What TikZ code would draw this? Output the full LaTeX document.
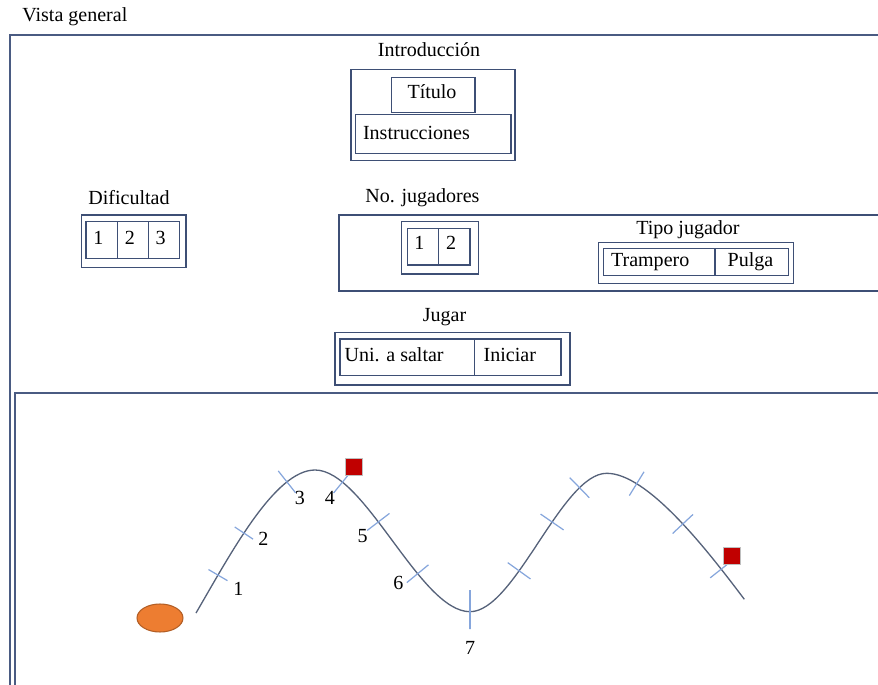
\documentclass[tikz,border=0pt]{standalone}
\usepackage{fontspec}
\setmainfont{Liberation Serif}
\usetikzlibrary{shapes.geometric,fit}
\definecolor{frameBlue}{HTML}{4A5B82}
\definecolor{boxBlue}{HTML}{3E4F75}
\definecolor{curveGray}{HTML}{56627A}
\definecolor{tickBlue}{HTML}{86A6DC}
\definecolor{flagRed}{HTML}{C00000}
\definecolor{fleaOrange}{HTML}{ED7D31}

\tikzset{
  lbl/.style={font=\fontsize{11.4}{13}\selectfont, inner sep=0, text height=.66em, text depth=0pt},
  box/.style={draw=boxBlue, line width=.6pt, inner sep=0},
  frame/.style={draw=frameBlue, line width=1pt},
  curve/.style={draw=curveGray, line width=.75pt},
  notch/.style={draw=tickBlue, line width=.7pt, sloped, minimum width=0pt, minimum height=#1, inner sep=0, outer sep=0},
  notch/.default=.56cm,
  flag/.style={fill=flagRed, draw=black!25, line width=.5pt, minimum size=.34cm, inner sep=0},
  flea/.style={ellipse, fill=fleaOrange, draw=fleaOrange!75!black, line width=.6pt, minimum width=.92cm, minimum height=.56cm}
}

\begin{document}
\begin{tikzpicture}[x=0.02cm, y=-0.02cm]
  \clip (0,0) rectangle (878,685);

  % marcos de la pantalla
  \node[lbl, anchor=west] (vista) at (22,16) {Vista general};
  \draw[frame] (10,35) rectangle (900,700);
  \draw[frame] (15,393) rectangle (900,700);

  % introduccion
  \node[lbl] (introLbl) at (429,51) {Introducción};
  \node[box, fit={(351,69.3) (515,160.7)}] (intro) {};
  \node[box, fit={(391.7,77.3) (475,112.3)}] (titulo) {};
  \node[lbl] (tituloTxt) at (432,93) {Título};
  \node[box, fit={(355.7,114.3) (511,153.3)}] (instr) {};
  \node[lbl, anchor=west] (instrTxt) at (362.7,133.3) {Instrucciones};

  % dificultad
  \node[lbl] (difLbl) at (129,198.3) {Dificultad};
  \node[box, fit={(81.7,215) (186,267.3)}] (dif) {};
  \node[box, fit={(86,221.7) (117.3,258.3)}] (dif1) {};
  \node[box, fit={(117.3,221.7) (148.3,258.3)}] (dif2) {};
  \node[box, fit={(148.3,221.7) (179.3,258.3)}] (dif3) {};
  \node[lbl] (dif1Txt) at (98.3,239) {1};
  \node[lbl] (dif2Txt) at (130,239) {2};
  \node[lbl] (dif3Txt) at (160.7,239) {3};

  % jugadores
  \node[lbl] (jugLbl) at (422.5,197) {No. jugadores};
  \node[box, fit={(339,215) (900,291)}] (jug) {};
  \node[box, fit={(401.7,221.7) (478.3,274)}] (num) {};
  \node[box, fit={(407.3,228.3) (438.7,265)}] (num1) {};
  \node[box, fit={(438.7,228.3) (470,265)}] (num2) {};
  \node[lbl] (num1Txt) at (419.3,243.5) {1};
  \node[lbl] (num2Txt) at (451,243.5) {2};

  \node[lbl] (tipoLbl) at (688,229) {Tipo jugador};
  \node[box, fit={(598.3,242.3) (793.3,283.3)}] (tipo) {};
  \node[box, fit={(603.3,248.3) (715,275.7)}] (tramp) {};
  \node[box, fit={(715,248.3) (788.3,275.7)}] (pulga) {};
  \node[lbl, anchor=west] (trampTxt) at (610.7,261) {Trampero};
  \node[lbl, anchor=west] (pulgaTxt) at (727.3,261) {Pulga};

  % jugar
  \node[lbl] (jugarLbl) at (444.5,315.5) {Jugar};
  \node[box, fit={(335,332.3) (570,385)}] (jugar) {};
  \node[box, fit={(340,339) (474.3,375.7)}] (saltar) {};
  \node[box, fit={(474.3,339) (561,375.7)}] (iniciar) {};
  \node[lbl, anchor=west] (saltarTxt) at (344.3,356) {Uni. a saltar};
  \node[lbl, anchor=west] (iniciarTxt) at (483.3,356) {Iniciar};

  % recorrido de la pulga con sus marcas
  \draw[curve] (196,613)
    .. controls (231,553) and (275,470) .. (315,470)
      node[notch=.44cm, pos=.2] (t1) {} node[notch=.44cm, pos=.42] (t2) {} node[notch, pos=.77] (t3) {}
    .. controls (365,470) and (420,611.7) .. (470,611.7)
      node[notch, pos=.18] (t4) {} node[notch, pos=.41] (t5) {} node[notch, pos=.66] (t6) {}
      node[notch=.78cm, pos=1, yshift=.04cm] (t7) {}
    .. controls (515,611.7) and (561.7,473.3) .. (606.7,473.3)
      node[notch, pos=.36] (t8) {} node[notch, pos=.6] (t9) {} node[notch, pos=.8] (t10) {}
    .. controls (646.7,473.3) and (704.3,546) .. (744.3,599.3)
      node[notch, pos=.23] (t11) {} node[notch, pos=.55] (t12) {} node[notch, pos=.82] (t13) {};

  \node[lbl] (l1) at (238.3,590) {1};
  \node[lbl] (l2) at (263.3,540) {2};
  \node[lbl] (l3) at (300,498.3) {3};
  \node[lbl] (l4) at (330,498.3) {4};
  \node[lbl] (l5) at (362.7,536.7) {5};
  \node[lbl] (l6) at (398.3,584) {6};
  \node[lbl] (l7) at (470,648.3) {7};

  \node[flag] (meta1) at (354,467.2) {};
  \node[flag] (meta2) at (732,556.2) {};
  \node[flea] (pulgaIcon) at (160,618) {};
\end{tikzpicture}
\end{document}
